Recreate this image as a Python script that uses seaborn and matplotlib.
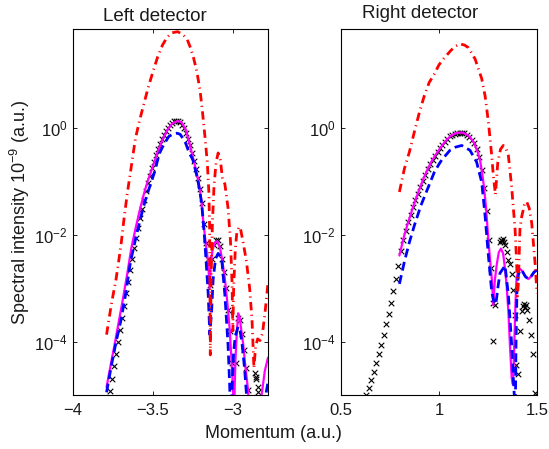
import numpy as np
import pandas as pd
import matplotlib
matplotlib.use("Agg")
import matplotlib.pyplot as plt
from matplotlib.ticker import FixedLocator, FixedFormatter, NullLocator
import seaborn as sns

# Intensities are stored as log10 exponents (units of 1e-9 a.u.).

# ---------------- Left detector ----------------
left_exact_p = [
    -3.7700, -3.7575, -3.7450, -3.7325, -3.7200, -3.7075, -3.6950, -3.6825, -3.6700, -3.6575,
    -3.6450, -3.6325, -3.6200, -3.6075, -3.5950, -3.5825, -3.5700, -3.5575, -3.5450, -3.5325,
    -3.5200, -3.5075, -3.4950, -3.4825, -3.4700, -3.4575, -3.4450, -3.4325, -3.4200, -3.4075,
    -3.3950, -3.3825, -3.3700, -3.3575, -3.3450, -3.3325, -3.3200, -3.3075, -3.2950, -3.2825,
    -3.2700, -3.2575, -3.2450, -3.2325, -3.2200, -3.2075, -3.1950, -3.1825, -3.1700, -3.1575,
    -3.1450, -3.1325, -3.1200, -3.1075, -3.0950, -3.0825, -3.0700, -3.0575, -3.0450, -3.0325,
    -3.0200, -3.0075, -2.9950, -2.9825, -2.9700, -2.9575, -2.9450, -2.9325, -2.9200, -2.9075,
    -2.8950, -2.8825, -2.8700, -2.8575, -2.8450, -2.8325, -2.8200, -2.8075, -2.7950, -2.7825,
    -2.8620, -2.8530, -2.8400,
]
left_exact_lg = [
    -4.93, -4.70, -4.46, -4.23, -4.00, -3.78, -3.55, -3.33, -3.10, -2.88,
    -2.66, -2.45, -2.25, -2.06, -1.87, -1.69, -1.52, -1.35, -1.19, -1.04,
    -0.90, -0.76, -0.63, -0.51, -0.40, -0.30, -0.21, -0.13, -0.06, 0.00,
    0.05, 0.09, 0.12, 0.13, 0.13, 0.11, 0.06, -0.01, -0.10, -0.21,
    -0.33, -0.47, -0.62, -0.77, -0.94, -1.14, -1.40, -1.80, -2.15, -2.45,
    -2.95, -2.45, -2.20, -2.10, -2.10, -2.22, -2.45, -2.70, -3.00, -3.40,
    -3.80, -4.40, -5.20, -4.40, -3.55, -3.60, -3.85, -4.15, -4.50, -4.90,
    -5.40, -5.80, -5.30, -4.70, -4.85, -5.20, -5.60, -5.50, -5.40, -5.30,
    -4.58, -4.66, -4.95,
]

left_full_p = [
    -3.790, -3.765, -3.740, -3.715, -3.6875, -3.660, -3.635, -3.610, -3.583, -3.555,
    -3.530, -3.500, -3.470, -3.440, -3.410, -3.380, -3.345, -3.320, -3.295, -3.270,
    -3.250, -3.227, -3.210, -3.196, -3.185, -3.170, -3.155, -3.145, -3.138, -3.128,
    -3.115, -3.097, -3.080, -3.065, -3.050, -3.035, -3.020, -3.008, -2.998, -2.993,
    -2.988, -2.983, -2.977, -2.967, -2.957, -2.946, -2.935, -2.925, -2.904, -2.895,
    -2.860, -2.830, -2.820, -2.800, -2.780,
]
left_full_lg = [
    -4.85, -4.45, -4.06, -3.65, -3.20, -2.72, -2.25, -1.90, -1.55, -1.22,
    -0.97, -0.72, -0.45, -0.22, -0.04, 0.08, 0.13, 0.10, -0.03, -0.30,
    -0.55, -0.83, -1.08, -1.39, -1.76, -2.15, -2.50, -3.00, -2.60, -2.30,
    -2.16, -2.12, -2.25, -2.50, -2.82, -3.25, -3.75, -4.37, -4.95, -5.60,
    -4.80, -4.30, -3.94, -3.47, -3.55, -3.81, -4.05, -4.37, -4.93, -5.50,
    -6.20, -5.60, -5.00, -4.55, -4.30,
]

left_approx_p = [
    -3.790, -3.760, -3.730, -3.700, -3.670, -3.640, -3.610, -3.580, -3.550, -3.520,
    -3.490, -3.460, -3.430, -3.400, -3.370, -3.350, -3.330, -3.300, -3.275, -3.250,
    -3.220, -3.196, -3.185, -3.175, -3.165, -3.154, -3.144, -3.133, -3.123, -3.108,
    -3.092, -3.070, -3.050, -3.030, -3.020, -3.012, -3.004, -2.995, -2.985, -2.967,
    -2.955, -2.945, -2.935, -2.925, -2.915, -2.905, -2.870, -2.830, -2.800, -2.790,
    -2.780,
]
left_approx_lg = [
    -4.95, -4.45, -4.00, -3.60, -3.10, -2.50, -2.10, -1.72, -1.38, -1.10,
    -0.83, -0.48, -0.30, -0.16, -0.11, -0.10, -0.12, -0.25, -0.45, -0.60,
    -0.96, -1.39, -1.75, -2.15, -2.60, -3.12, -3.87, -3.44, -2.82, -2.45,
    -2.35, -2.44, -3.12, -4.06, -4.80, -5.60, -4.80, -4.20, -3.90, -3.72,
    -3.80, -3.97, -4.25, -4.56, -4.98, -5.50, -6.00, -5.80, -5.30, -4.93,
    -4.75,
]

left_other_p = [
    -3.790, -3.760, -3.730, -3.700, -3.680, -3.660, -3.640, -3.610, -3.585, -3.560,
    -3.530, -3.500, -3.470, -3.440, -3.410, -3.380, -3.345, -3.310, -3.285, -3.265,
    -3.245, -3.225, -3.205, -3.190, -3.175, -3.160, -3.150, -3.145, -3.141, -3.136,
    -3.128, -3.118, -3.105, -3.092, -3.078, -3.065, -3.050, -3.030, -3.015, -3.005,
    -3.000, -2.995, -2.985, -2.975, -2.960, -2.950, -2.935, -2.915, -2.895, -2.880,
    -2.868, -2.858, -2.845, -2.830, -2.815, -2.800, -2.780,
]
left_other_lg = [
    -3.87, -3.30, -2.82, -2.20, -1.68, -1.22, -0.82, -0.21, 0.12, 0.41,
    0.75, 1.05, 1.33, 1.55, 1.70, 1.78, 1.80, 1.74, 1.65, 1.50,
    1.30, 1.05, 0.70, 0.30, -0.15, -0.64, -1.20, -1.90, -4.25, -2.80,
    -1.80, -1.10, -0.65, -0.47, -0.60, -0.95, -1.05, -1.50, -2.10, -2.90,
    -3.80, -3.00, -2.30, -1.95, -1.85, -1.92, -2.15, -2.50, -3.00, -3.60,
    -4.50, -4.10, -3.95, -3.98, -3.85, -3.50, -2.90,
]

# ---------------- Right detector ----------------
right_exact_p = [
    0.6300, 0.6425, 0.6550, 0.6675, 0.6800, 0.6925, 0.7050, 0.7175, 0.7300, 0.7425,
    0.7550, 0.7675, 0.7800, 0.7925, 0.8050, 0.8175, 0.8300, 0.8425, 0.8550, 0.8675,
    0.8800, 0.8925, 0.9050, 0.9175, 0.9300, 0.9425, 0.9550, 0.9675, 0.9800, 0.9925,
    1.0050, 1.0175, 1.0300, 1.0425, 1.0550, 1.0675, 1.0800, 1.0925, 1.1050, 1.1175,
    1.1300, 1.1425, 1.1550, 1.1675, 1.1800, 1.1925, 1.2050, 1.2175, 1.2300, 1.2425,
    1.2550, 1.2675, 1.2740, 1.2770, 1.2860, 1.3110, 1.3180, 1.3220, 1.3270, 1.3320,
    1.3380, 1.3450, 1.3540, 1.3620, 1.3710, 1.3760, 1.3860, 1.3930, 1.4040, 1.4130,
    1.4220, 1.4290, 1.4340, 1.4380, 1.4440, 1.4500, 1.4610, 1.4680, 1.4780, 1.4900,
]
right_exact_lg = [
    -5.00, -4.87, -4.72, -4.57, -4.41, -4.24, -4.06, -3.87, -3.68, -3.48,
    -3.27, -3.05, -2.83, -2.59, -2.30, -2.10, -1.93, -1.77, -1.63, -1.49,
    -1.35, -1.23, -1.10, -0.99, -0.88, -0.77, -0.68, -0.60, -0.52, -0.45,
    -0.38, -0.32, -0.26, -0.21, -0.16, -0.13, -0.11, -0.09, -0.09, -0.09,
    -0.10, -0.13, -0.17, -0.22, -0.29, -0.40, -0.55, -0.78, -1.12, -1.55,
    -2.10, -2.62, -3.99, -3.28, -3.31, -2.14, -2.09, -2.12, -2.08, -2.13,
    -2.20, -2.33, -2.47, -2.55, -2.73, -3.03, -3.50, -4.43, -4.60, -3.80,
    -3.43, -3.33, -3.30, -3.35, -3.31, -3.40, -3.59, -3.87, -4.24, -4.96,
]

right_full_p = [
    0.798, 0.820, 0.840, 0.860, 0.880, 0.900, 0.920, 0.940, 0.960, 0.980,
    1.000, 1.020, 1.040, 1.060, 1.080, 1.100, 1.120, 1.140, 1.160, 1.180,
    1.200, 1.210, 1.220, 1.230, 1.240, 1.250, 1.260, 1.270, 1.277, 1.285,
    1.295, 1.305, 1.316, 1.327, 1.337, 1.345, 1.354, 1.362, 1.371, 1.377,
    1.383, 1.390, 1.396, 1.405, 1.413, 1.425, 1.440, 1.456, 1.470, 1.485,
    1.500,
]
right_full_lg = [
    -2.39, -2.05, -1.80, -1.57, -1.35, -1.15, -0.96, -0.79, -0.64, -0.52,
    -0.41, -0.31, -0.22, -0.15, -0.11, -0.09, -0.09, -0.12, -0.18, -0.29,
    -0.48, -0.62, -0.84, -1.12, -1.50, -2.00, -2.45, -2.85, -3.32, -2.85,
    -2.55, -2.33, -2.26, -2.35, -2.64, -2.95, -3.44, -4.07, -4.69, -4.80,
    -4.20, -3.30, -2.80, -2.68, -2.64, -2.68, -2.78, -2.83, -2.78, -2.70,
    -2.66,
]

right_approx_p = [
    0.798, 0.823, 0.849, 0.874, 0.908, 0.942, 0.976, 1.000, 1.014, 1.056,
    1.085, 1.116, 1.158, 1.192, 1.218, 1.235, 1.252, 1.269, 1.280, 1.290,
    1.300, 1.311, 1.337, 1.354, 1.371, 1.379, 1.384, 1.388, 1.393, 1.398,
    1.405, 1.413, 1.425, 1.440, 1.456, 1.470, 1.485, 1.500,
]
right_approx_lg = [
    -2.92, -2.51, -2.14, -1.83, -1.45, -1.14, -0.83, -0.68, -0.60, -0.42,
    -0.36, -0.33, -0.42, -0.64, -1.02, -1.64, -2.39, -3.07, -3.25, -3.30,
    -3.00, -2.72, -2.58, -3.13, -4.07, -4.69, -5.00, -5.80, -4.00, -3.00,
    -2.75, -2.66, -2.68, -2.78, -2.83, -2.78, -2.70, -2.66,
]

right_other_p = [
    0.798, 0.823, 0.849, 0.874, 0.900, 0.925, 0.950, 0.975, 1.000, 1.025,
    1.056, 1.080, 1.107, 1.130, 1.150, 1.184, 1.218, 1.235, 1.252, 1.269,
    1.277, 1.288, 1.300, 1.314, 1.328, 1.341, 1.354, 1.370, 1.388, 1.396,
    1.400, 1.405, 1.413, 1.422, 1.435, 1.447, 1.460, 1.473, 1.490, 1.500,
]
right_other_lg = [
    -1.20, -0.77, -0.45, -0.08, 0.29, 0.60, 0.85, 1.00, 1.18, 1.30,
    1.43, 1.52, 1.57, 1.55, 1.50, 1.29, 0.92, 0.60, 0.11, -0.52,
    -0.89, -1.25, -0.64, -0.40, -0.33, -0.38, -0.52, -1.08, -1.89, -2.51,
    -3.15, -2.90, -1.89, -1.66, -1.45, -1.38, -1.50, -1.78, -2.53, -3.10,
]

# ---------------- Axis text ----------------
titles = ["Left detector", "Right detector"]
left_xticks = [-4.0, -3.5, -3.0]
left_xticklabels = ["\u22124", "\u22123.5", "\u22123"]
right_xticks = [0.5, 1.0, 1.5]
right_xticklabels = ["0.5", "1", "1.5"]
yticks = [1e-4, 1e-2, 1e0]
yticklabels = ["$10^{-4}$", "$10^{-2}$", "$10^{0}$"]
xlabel = "Momentum (a.u.)"
ylabel = "Spectral intensity 10$^{-9}$ (a.u.)"

sns.set_theme(style="white")
plt.rcParams["font.family"] = ["Liberation Sans", "DejaVu Sans"]
plt.rcParams["mathtext.default"] = "regular"

TEXT = "#1a1a1a"
FIG_W, FIG_H = 549, 449

fig = plt.figure(figsize=(FIG_W / 100, FIG_H / 100), dpi=100)
ax_l = fig.add_axes([73 / FIG_W, 54 / FIG_H, 195 / FIG_W, 366 / FIG_H])
ax_r = fig.add_axes([341 / FIG_W, 54 / FIG_H, 196 / FIG_W, 366 / FIG_H])


def draw_curve(ax, p, lg, color, lw, dashes, z):
    df = pd.DataFrame({"p": p, "I": np.power(10.0, lg)})
    sns.lineplot(data=df, x="p", y="I", ax=ax, color=color, linewidth=lw,
                 estimator=None, sort=False, zorder=z)
    line = ax.lines[-1]
    if dashes is not None:
        line.set_dashes(dashes)
    line.set_solid_joinstyle("round")
    line.set_dash_joinstyle("round")


def draw_panel(ax, ex_p, ex_lg, fu_p, fu_lg, ap_p, ap_lg, ot_p, ot_lg,
               xlim, xt, xtl, title, title_x, title_y):
    ax.set_yscale("log")
    sns.scatterplot(x=ex_p, y=np.power(10.0, ex_lg), ax=ax, marker="x",
                    color="black", s=16, linewidth=0.8, zorder=2)
    draw_curve(ax, fu_p, fu_lg, "#ff00ff", 1.6, None, 3)
    draw_curve(ax, ap_p, ap_lg, "#0000ff", 2.0, (3.2, 1.7), 4)
    draw_curve(ax, ot_p, ot_lg, "#ff0000", 2.0, (3.0, 1.6, 0.4, 1.6), 5)

    ax.set_xlim(*xlim)
    ax.set_ylim(1e-5, 10 ** 1.85)
    ax.xaxis.set_major_locator(FixedLocator(xt))
    ax.xaxis.set_major_formatter(FixedFormatter(xtl))
    ax.yaxis.set_major_locator(FixedLocator(yticks))
    ax.yaxis.set_major_formatter(FixedFormatter(yticklabels))
    ax.xaxis.set_minor_locator(NullLocator())
    ax.yaxis.set_minor_locator(NullLocator())
    ax.set_xlabel("")
    ax.set_ylabel("")
    ax.tick_params(axis="both", which="major", direction="in", length=3.0,
                   width=0.6, top=True, right=True, bottom=True, left=True,
                   labelsize=12, labelcolor=TEXT, color="black")
    ax.tick_params(axis="x", pad=6)
    ax.tick_params(axis="y", pad=4)
    for sp in ax.spines.values():
        sp.set_visible(True)
        sp.set_color("black")
        sp.set_linewidth(0.8)
    ax.text(title_x, title_y, title, transform=ax.transAxes, ha="center",
            va="baseline", fontsize=13.5, color=TEXT)


draw_panel(ax_l, left_exact_p, left_exact_lg, left_full_p, left_full_lg,
           left_approx_p, left_approx_lg, left_other_p, left_other_lg,
           (-4.0, -2.78), left_xticks, left_xticklabels, titles[0], 0.42, 1.023)
draw_panel(ax_r, right_exact_p, right_exact_lg, right_full_p, right_full_lg,
           right_approx_p, right_approx_lg, right_other_p, right_other_lg,
           (0.5, 1.5), right_xticks, right_xticklabels, titles[1], 0.403, 1.030)

fig.text(273 / FIG_W, 1 - 438 / FIG_H, xlabel, ha="center", va="baseline",
         fontsize=13, color=TEXT)
fig.text(20 / FIG_W, 1 - 212 / FIG_H, ylabel, ha="center", va="center",
         rotation=90, fontsize=13, color=TEXT)

fig.savefig("out.png", dpi=100, facecolor="white")
